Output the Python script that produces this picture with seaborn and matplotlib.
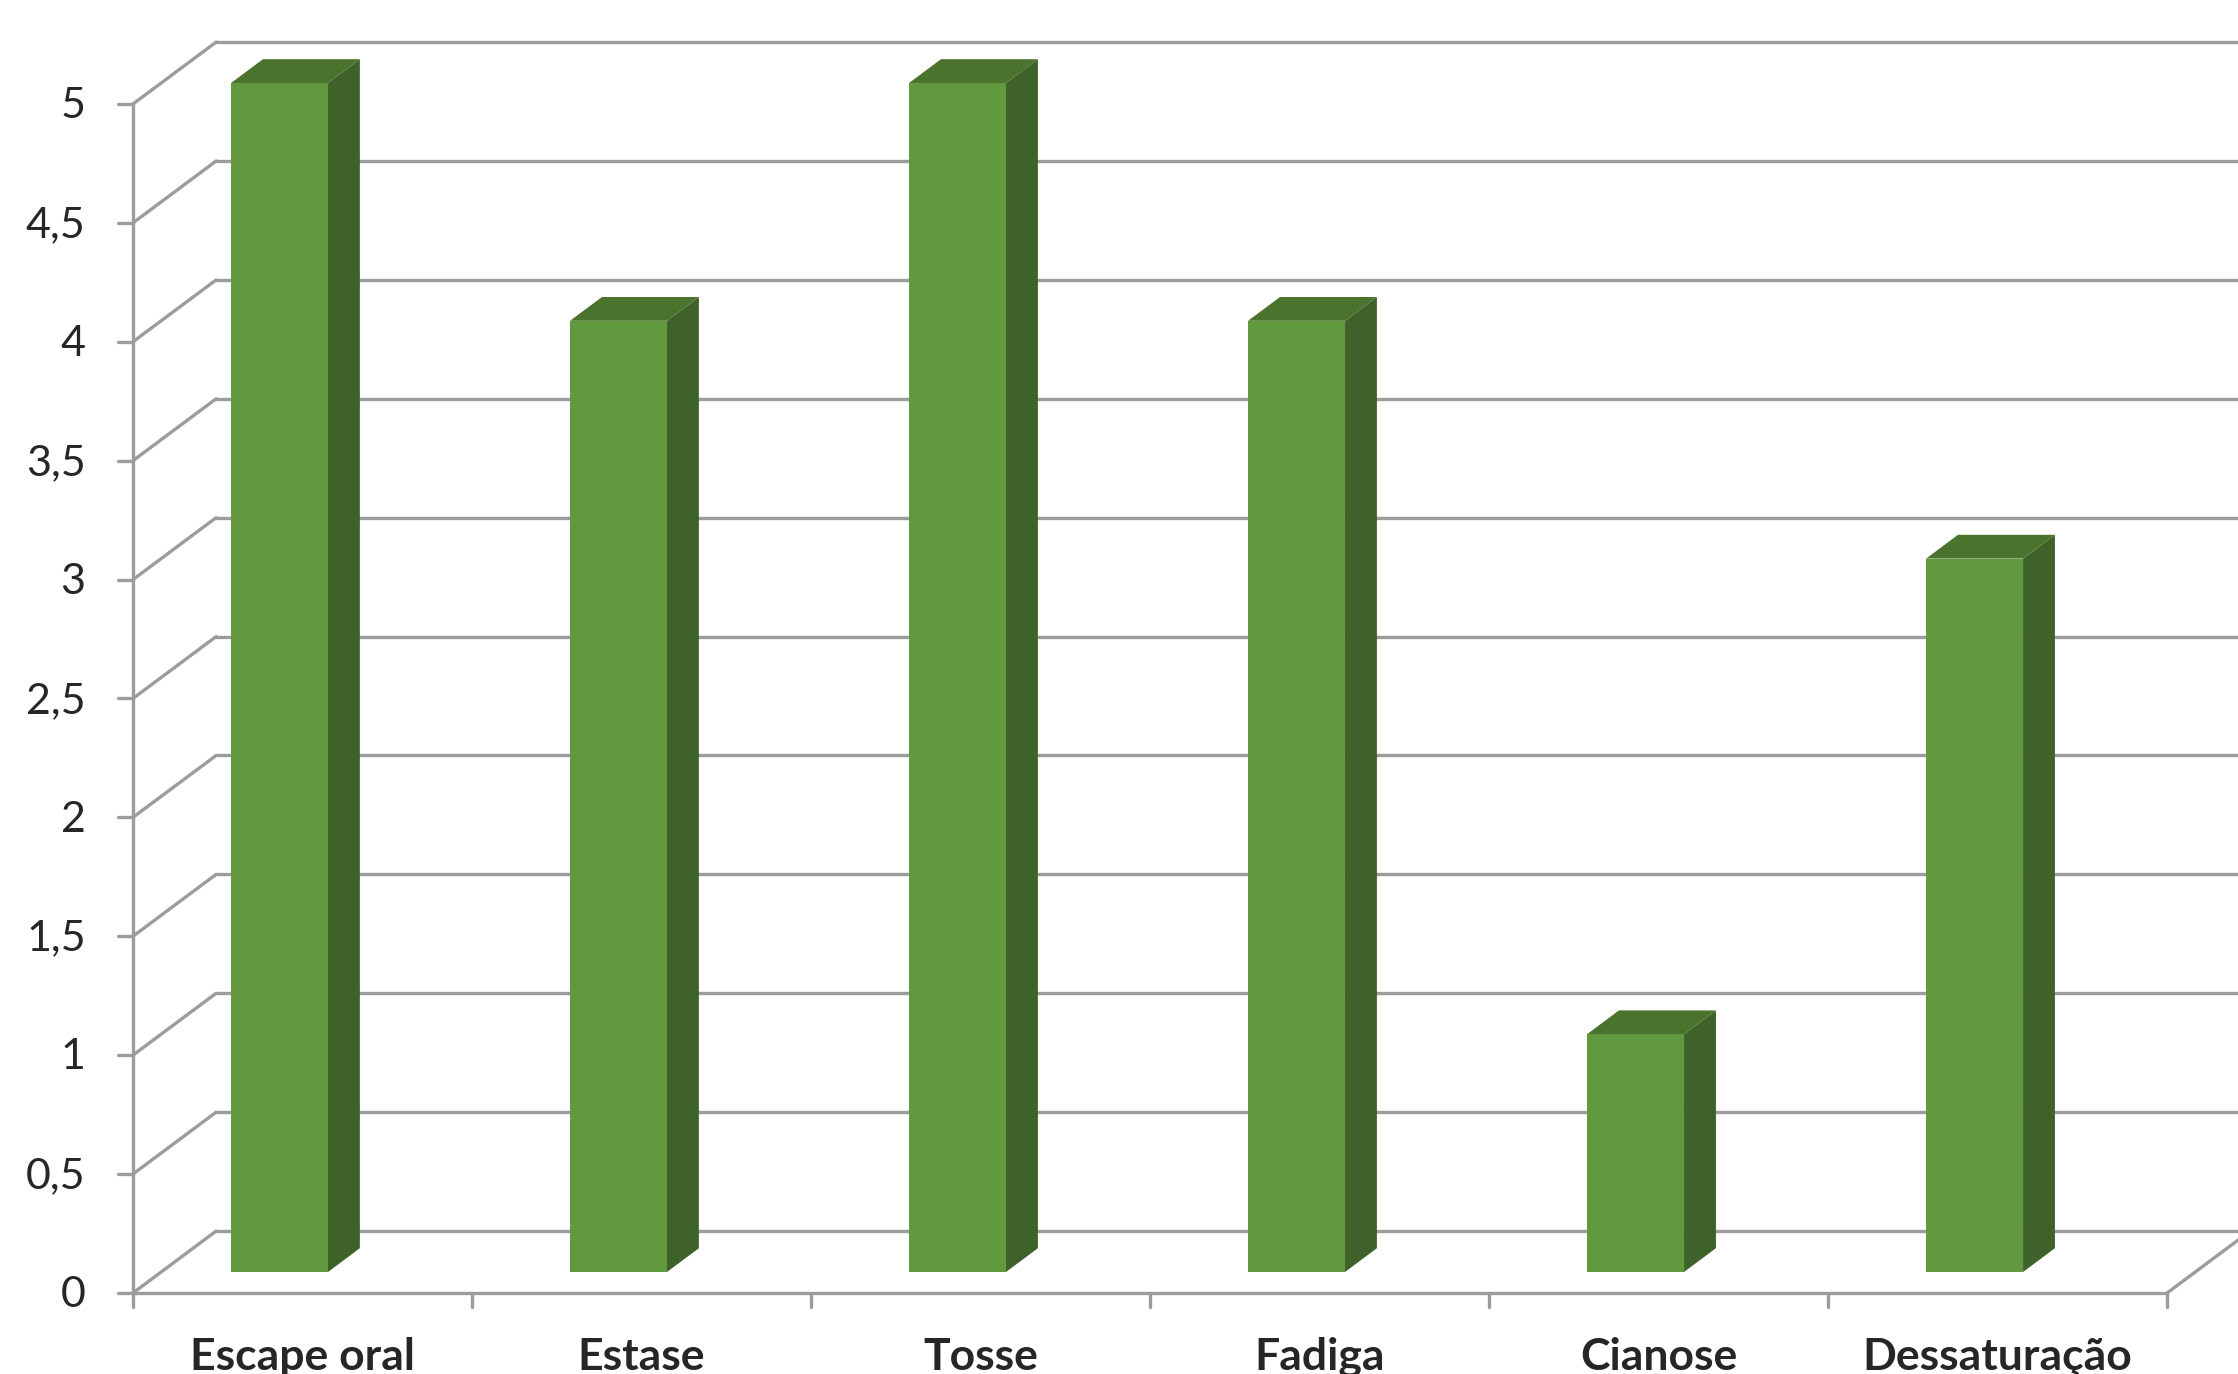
import numpy as np
import seaborn as sns
import matplotlib.pyplot as plt

# data
categories = ['Escape oral', 'Estase', 'Tosse', 'Fadiga', 'Cianose', 'Dessaturação']
values = [5, 4, 5, 4, 1, 3]
y_ticks = [0, 0.5, 1, 1.5, 2, 2.5, 3, 3.5, 4, 4.5, 5]
y_tick_labels = ['0', '0,5', '1', '1,5', '2', '2,5', '3', '3,5', '4', '4,5', '5']

front_col = '#62993E'
side_col = '#3E6229'
top_col = '#4A732E'
grid_col = '#9C9C9C'

# oblique 3D offsets (in data units, relative to the bars' front plane)
fx, fy = 0.068, -0.088     # front wall plane
bx, by = 0.313, 0.172      # back wall plane
dx, dy = 0.094, 0.10       # bar depth
bar_w = 0.286

sns.set_style('white')
plt.rcParams['font.family'] = ['Lato', 'DejaVu Sans']

fig = plt.figure(figsize=(22.38, 13.74), dpi=100)
ax = fig.add_axes([0, 0, 1, 1])

n = len(categories)
lw = 2.4

# back wall gridlines
for v in y_ticks:
    ax.plot([-0.5 + bx, 7], [v + by, v + by], color=grid_col, lw=lw, zorder=1)
    # left wall diagonals
    ax.plot([-0.5 + fx, -0.5 + bx], [v + fy, v + by], color=grid_col, lw=lw, zorder=1)

# right floor edge
ax.plot([n - 0.5 + fx, n - 0.5 + bx], [fy, by], color=grid_col, lw=lw, zorder=1)
# front floor edge and vertical axis
ax.plot([-0.5 + fx, n - 0.5 + fx], [fy, fy], color=grid_col, lw=lw, zorder=1)
ax.plot([-0.5 + fx, -0.5 + fx], [fy, 5 + fy], color=grid_col, lw=lw, zorder=1)

# ticks
for v, lab in zip(y_ticks, y_tick_labels):
    ax.plot([-0.5 + fx - 0.045, -0.5 + fx], [v + fy, v + fy], color=grid_col, lw=lw, zorder=1)
    ax.text(-0.5 + fx - 0.14, v + fy - 0.01, lab, ha='right', va='center', fontsize=31)
for i in range(n + 1):
    ax.plot([i - 0.5 + fx, i - 0.5 + fx], [fy, fy - 0.06], color=grid_col, lw=lw, zorder=1)
for i, c in enumerate(categories):
    ax.text(i + fx, fy - 0.27, c, ha='center', va='center', fontsize=32, fontweight='bold')

# front faces
sns.barplot(x=categories, y=values, width=bar_w, color=front_col, saturation=1,
            linewidth=0, ax=ax, zorder=3)

# side and top faces
for i, v in enumerate(values):
    x0, x1 = i - bar_w / 2, i + bar_w / 2
    ax.fill([x1, x1 + dx, x1 + dx, x1], [0, dy, v + dy, v], color=side_col, lw=0, zorder=3)
    ax.fill([x0, x1, x1 + dx, x0 + dx], [v, v, v + dy, v + dy], color=top_col, lw=0, zorder=3)

ax.set_xlim(-0.8245, 5.777)
ax.set_ylim(-0.429, 5.349)
ax.axis('off')

fig.savefig('out.png', dpi=100)
